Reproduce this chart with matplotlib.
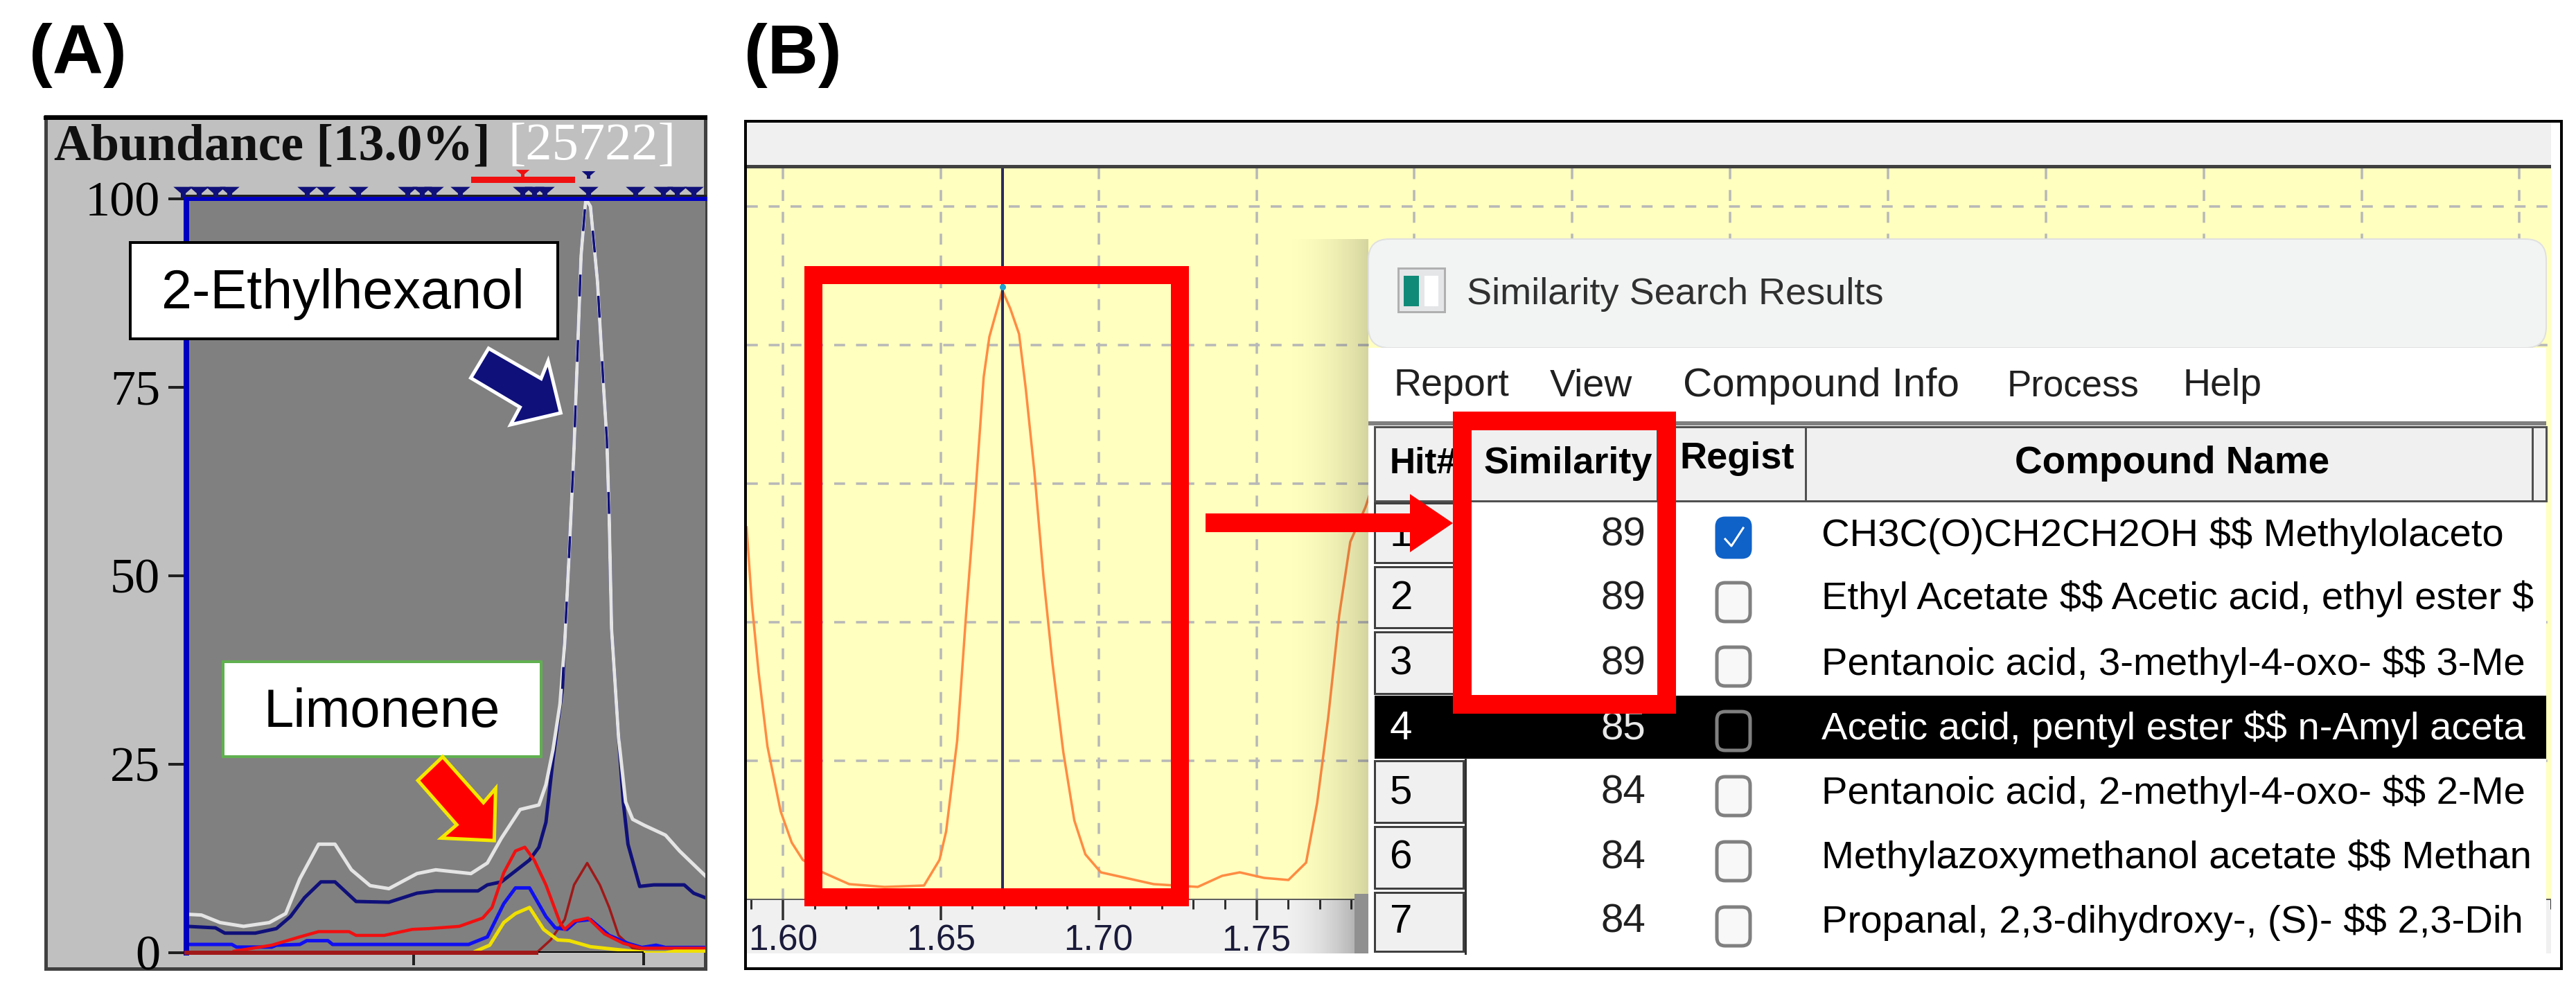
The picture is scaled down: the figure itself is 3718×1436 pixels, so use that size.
import matplotlib
matplotlib.use("Agg")
import matplotlib.pyplot as plt
import numpy as np
from matplotlib.patches import Rectangle, Polygon, FancyBboxPatch

plt.rcParams['font.family'] = ['Liberation Sans', 'DejaVu Sans']

W, H = 3718, 1436

# panel A: scan number vs abundance
a_white_x = [400,430,470,520,575,610,640,680,715,750,790,830,890,930,1005,1040,1070,1110,1150,1165,1180,1195,1205,1215,1225,1240,1250,1260,1275,1288,1295,1300,1305,1320,1335,1350,1375,1420,1450,1505]
a_white_y = [5.1,5.0,4.0,3.5,4.0,5.2,9.8,14.4,14.4,11,8.9,8.5,10.5,11,10.5,11.9,15.2,19,19.6,22.3,26.9,33,41,53.5,67,92.5,100,99,89,75,68,57.7,43,28.5,20,17.7,16.9,15.6,13.5,10.2]
a_navy_x = [400,460,480,545,590,620,650,685,715,760,830,890,930,1020,1040,1070,1130,1150,1165,1180,1200,1215,1225,1240,1250,1260,1275,1288,1295,1300,1305,1320,1330,1340,1365,1395,1460,1480,1505]
a_navy_y = [3.5,3.3,2.6,2.6,3.2,4.8,7.3,9.4,9.4,6.8,6.7,7.9,8.2,8.2,9,9.4,12.3,14,17.3,25.6,35,53.5,67,92.5,100,99,89,75,68,57.7,43,28.5,20,14.4,8.8,9,9,7.9,7.3]
a_red_x = [500,580,640,680,745,760,820,880,915,980,1030,1050,1075,1100,1120,1140,1165,1195,1205,1225,1255,1290,1330,1370,1400,1505]
a_red_y = [0.2,1,2.1,2.8,2.8,2.3,2.3,3.1,3.2,3.5,4.6,6,10.6,13.5,14,12.3,9,4,3.1,4.2,4.6,2.5,1.25,0.6,0.6,0.6]
a_blue_x = [400,495,505,580,590,640,655,700,710,1000,1040,1075,1100,1130,1165,1185,1210,1230,1260,1300,1340,1370,1400,1420,1505]
a_blue_y = [1.1,1.1,0.75,0.75,1,1.1,1.6,1.6,1.1,1.1,2.1,6.5,8.6,8.6,4.8,3.3,3.1,4.2,4.4,2.3,1.25,0.7,1,0.7,0.7]
a_yellow_x = [1015,1045,1075,1100,1130,1160,1190,1215,1260,1320,1370,1380,1420,1440,1505]
a_yellow_y = [0.2,1,4,5.2,6,3.1,1.7,1.6,0.8,0.4,0.1,0,0,0.2,0.2]
a_dark_x = [400,1145,1175,1205,1225,1253,1280,1300,1320,1350,1380,1420,1470,1505]
a_dark_y = [0,0,1.7,4.4,9,11.9,9,6,2.3,0.6,0,0,0.6,0.2]
a_peak_marks = [390,425,460,490,655,695,765,870,900,925,982,1115,1140,1162,1255,1355,1415,1445,1480]
a_yticks = [0,25,50,75,100]
a_xticks = [883,1373]

# panel B: retention time vs intensity
b_x = [1.5885,1.5902,1.5923,1.5951,1.5993,1.6028,1.6063,1.6126,1.6210,1.6322,1.6447,1.6496,1.6517,1.6552,1.6580,1.6608,1.6636,1.6654,1.6695,1.6720,1.6748,1.6769,1.6797,1.6825,1.6853,1.6888,1.6923,1.6958,1.7007,1.7076,1.7174,1.7314,1.7391,1.7447,1.7524,1.7601,1.7657,1.7692,1.7727,1.7762,1.7797,1.7845,1.7943]
b_y = [2.685,2.13,1.64,1.105,0.635,0.41,0.285,0.195,0.11,0.09,0.10,0.285,0.49,1.145,2.05,2.87,3.77,4.06,4.395,4.265,4.08,3.69,3.075,2.335,1.72,1.065,0.57,0.325,0.195,0.16,0.11,0.09,0.17,0.195,0.155,0.14,0.265,0.695,1.31,2.05,2.58,2.83,3.5]
b_labels = ['1.60','1.65','1.70','1.75']

# hit table
hits = ['1','2','3','4','5','6','7']
similarity = [89,89,89,85,84,84,84]
names = ['CH3C(O)CH2CH2OH $$ Methylolaceto',
         'Ethyl Acetate $$ Acetic acid, ethyl ester $',
         'Pentanoic acid, 3-methyl-4-oxo- $$ 3-Me',
         'Acetic acid, pentyl ester $$ n-Amyl aceta',
         'Pentanoic acid, 2-methyl-4-oxo- $$ 2-Me',
         'Methylazoxymethanol acetate $$ Methan',
         'Propanal, 2,3-dihydroxy-, (S)- $$ 2,3-Dih']
row_text_y = [773,864,959,1052,1145,1238,1331]
row_box_y = [776,869,962,1055,1149,1243,1337]
row_edges = [723,815,909,1004,1095,1190,1285,1376]

# squat peak flags of the data system
flag = [(-1,0.55),(1,0.55),(0.25,-0.1),(0.25,-0.55),(-0.25,-0.55),(-0.25,-0.1)]


def pos(l, t, r, b):
    return [l/W, 1-b/H, (r-l)/W, (b-t)/H]


def rect(ax, l, t, r, b, fc='none', ec='none', lw=0, **kw):
    ax.add_patch(Rectangle((l, t), r-l, b-t, facecolor=fc, edgecolor=ec, linewidth=lw, **kw))


def px(n):
    return n*72/100


fig = plt.figure(figsize=(W/100, H/100), dpi=100, facecolor='white')

bg = fig.add_axes([0, 0, 1, 1], zorder=0)
top = fig.add_axes([0, 0, 1, 1], zorder=5)
for a in (bg, top):
    a.set_xlim(0, W)
    a.set_ylim(H, 0)
    a.axis('off')
top.patch.set_alpha(0)

# ---------- panel A ----------
rect(bg, 66, 168, 1018, 1398, fc='#c0c0c0', ec='#404040', lw=px(5))
bg.plot([66, 1018], [170, 170], color='black', lw=px(6))

axa = fig.add_axes(pos(269, 287, 1018, 1375), zorder=1, facecolor='#808080')
axa.set_xlim(398, 1505)
axa.set_ylim(0, 100)
axa.plot(a_navy_x, a_navy_y, color='#10107a', lw=px(5))
axa.plot(a_white_x, a_white_y, color='#e4e4e4', lw=px(5))
axa.plot(a_navy_x[20:30], a_navy_y[20:30], color='#10107a', lw=px(3.5), ls=(0, (9, 18)))
axa.plot(a_dark_x, a_dark_y, color='#a01818', lw=px(3.5))
axa.plot(a_blue_x, a_blue_y, color='#1010f0', lw=px(5))
axa.plot(a_red_x, a_red_y, color='#f01010', lw=px(4.5))
axa.plot(a_yellow_x, a_yellow_y, color='#f0e000', lw=px(5))
axa.plot([1145, 1370], [0, 0], color='black', lw=px(4), zorder=2)
axa.plot([398, 1145], [0, 0], color='#a01818', lw=px(6), clip_on=False, zorder=3)
axa.plot([398, 1505], [100.5, 100.5], color='#202020', lw=px(3), clip_on=False, zorder=3)
axa.scatter(a_peak_marks, [100.9]*len(a_peak_marks), marker=flag, s=420, color='#10107a', linewidths=0, clip_on=False, zorder=4)
axa.scatter([1115], [103.4], marker=flag, s=200, color='#f01010', linewidths=0, clip_on=False)
axa.scatter([1255], [103.2], marker=flag, s=200, color='#10107a', linewidths=0, clip_on=False)
axa.plot([1012, 1220], [102.6, 102.6], color='#f01010', lw=px(9), clip_on=False)
axa.set_yticks(a_yticks)
axa.set_xticks(a_xticks, ['', ''])
axa.tick_params(axis='y', length=px(26), width=px(4), color='#202020', pad=px(12), labelsize=52)
axa.tick_params(axis='x', length=px(18), width=px(4), color='#202020')
for lab in axa.get_yticklabels():
    lab.set_family(['Liberation Serif'])
for s in ('right', 'bottom'):
    axa.spines[s].set_visible(False)
axa.spines['left'].set_color('#0000c0')
axa.spines['left'].set_linewidth(px(8))
axa.spines['top'].set_color('#0000c0')
axa.spines['top'].set_linewidth(px(6))

top.text(78, 212, 'Abundance [13.0%]', fontsize=53, fontfamily=['Liberation Serif'], fontweight='bold', va='center', color='#101010')
top.text(733, 212, '[25722]', fontsize=55, fontfamily=['Liberation Serif'], va='center', color='white')

# call-outs
rect(top, 188, 350, 805, 489, fc='white', ec='black', lw=px(4))
top.text(495, 424, '2-Ethylhexanol', fontsize=57, ha='center', va='center', color='black')
rect(top, 322, 955, 781, 1092, fc='white', ec='#60b050', lw=px(4))
top.text(551, 1028, 'Limonene', fontsize=56, ha='center', va='center', color='black')

navy = np.array([(1043, 1095), (1155, 1190), (1170, 1135), (1197, 1298), (1090, 1335), (1110, 1280), (1005, 1188)], float)
navy[:, 0] /= 1.479
navy[:, 1] /= 2.178
top.add_patch(Polygon(navy, closed=True, facecolor='#10107a', edgecolor='white', linewidth=px(5)))
redar = np.array([(945, 815), (1032, 960), (1058, 915), (1055, 1080), (942, 1072), (975, 1030), (892, 890)], float)
redar[:, 0] /= 1.479
redar[:, 1] = redar[:, 1]/2.19 + 720
top.add_patch(Polygon(redar, closed=True, facecolor='#ff0000', edgecolor='#f5e800', linewidth=px(5)))

top.text(42, 80, '(A)', fontsize=73, fontweight='bold', va='center', color='black')
top.text(1074, 80, '(B)', fontsize=73, fontweight='bold', va='center', color='black')

# ---------- panel B ----------
rect(bg, 1076, 175, 3697, 1376, fc='#f0f0f0')

axb = fig.add_axes(pos(1078, 240, 3682, 1298), zorder=1, facecolor='#ffffc0')
axb.set_xlim(1.5886, 2.1596)
axb.set_ylim(0, 5.29)
major = np.arange(1.60, 2.16, 0.05)
axb.set_xticks(major, b_labels + ['']*(len(major)-len(b_labels)))
axb.set_xticks(np.arange(1.59, 2.16, 0.01), minor=True)
axb.set_yticks([1, 2, 3, 4, 5])
axb.grid(True, which='major', color='#b8b8b8', lw=px(3.5), ls=(0, (4.5, 4.5)))
axb.set_axisbelow(True)
axb.tick_params(axis='x', which='major', length=px(30), width=px(3.5), color='#303030', labelsize=37, pad=px(6), labelcolor='#1a1a3a')
axb.tick_params(axis='x', which='minor', length=px(14), width=px(3), color='#303030')
axb.tick_params(axis='y', length=0, labelleft=False)
axb.plot(b_x, b_y, color='#ff8c42', lw=px(3.5))
axb.axvline(1.6696, color='#2a2a60', lw=px(4))
axb.scatter([1.6696], [4.42], s=30, color='#20a0d0', zorder=3)
for s in axb.spines.values():
    s.set_visible(False)
axb.spines['top'].set_visible(True)
axb.spines['top'].set_color('#404040')
axb.spines['top'].set_linewidth(px(5))
axb.spines['bottom'].set_visible(True)
axb.spines['bottom'].set_color('#606060')
axb.spines['bottom'].set_linewidth(px(2))

# window shadow, weaker on the yellow, stronger on the axis strip
shade = np.zeros((1, 130, 4))
shade[0, :, 3] = np.linspace(0, 1, 130)**2*0.17
top.imshow(shade, extent=(1845, 1975, 1298, 345), aspect='auto', zorder=0.5)
shade2 = np.zeros((1, 130, 4))
shade2[0, :, 3] = np.linspace(0, 1, 130)**2*0.35
top.imshow(shade2, extent=(1845, 1975, 1376, 1298), aspect='auto', zorder=0.5)
top.set_xlim(0, W)
top.set_ylim(H, 0)

# white margin under the plot and frame
rect(top, 1076, 1376, 3697, 1398, fc='white', zorder=1)
rect(top, 3682, 175, 3697, 1398, fc='white', zorder=1)
rect(top, 1076, 175, 3697, 1398, ec='black', lw=px(4), zorder=9)

# window
top.add_patch(FancyBboxPatch((1975, 345), 1700, 157, boxstyle='round,pad=0,rounding_size=30', facecolor='#f2f4f4', edgecolor='#e0e0e0', linewidth=px(2), zorder=1.1))
rect(top, 1975, 502, 3675, 1376, fc='white', zorder=1.2)
rect(top, 1955, 1290, 1984, 1376, fc='#909090', zorder=1.1)
rect(top, 1975, 608, 3675, 614, fc='#808080', zorder=1.3)

# icon
rect(top, 2018, 387, 2085, 450, fc='#e4e6e8', ec='#b0b0b0', lw=px(3), zorder=2)
rect(top, 2026, 398, 2048, 442, fc='#108a78', zorder=3)
rect(top, 2056, 398, 2076, 442, fc='white', zorder=3)

top.text(2117, 425, 'Similarity Search Results', fontsize=39, va='center', color='#303030', zorder=3)
menu = [('Report', 2012, 40), ('View', 2237, 40), ('Compound Info', 2429, 42), ('Process', 2897, 38), ('Help', 3151, 40)]
for label, x0, fs in menu:
    top.text(x0, 557, label, fontsize=fs, va='center', color='#202020', zorder=3)

# header
cols = [1984, 2119, 2392, 2606, 3655, 3675]
for l, r in zip(cols[:-1], cols[1:]):
    rect(top, l, 616, r, 723, fc='#f0f0f0', ec='#505050', lw=px(3), zorder=2)
top.text(2006, 669, 'Hit#', fontsize=37, fontweight='bold', va='center', color='black', zorder=3)
top.text(2142, 669, 'Similarity', fontsize=39, fontweight='bold', va='center', color='black', zorder=3)
top.text(2424, 662, 'Regist', fontsize=39, fontweight='bold', va='center', color='black', zorder=3)
top.text(3135, 669, 'Compound Name', fontsize=39.5, fontweight='bold', va='center', ha='center', color='black', zorder=3)

# rows
for i in range(len(hits)):
    t0, t1 = row_edges[i], row_edges[i+1]
    sel = hits[i] == '4'
    if sel:
        rect(top, 1984, t0, 3675, t1, fc='black', zorder=2)
    else:
        rect(top, 1984, t0+3, 2112, t1-3, fc='#f0f0f0', ec='#404040', lw=px(3), zorder=2)
    col = 'white' if sel else 'black'
    top.text(2006, row_text_y[i], hits[i], fontsize=42, va='center', color=col, zorder=3)
    top.text(2375, row_text_y[i], str(similarity[i]), fontsize=42, va='center', ha='right', color='#e8e8e8' if sel else '#202020', zorder=3)
    top.text(2629, row_text_y[i], names[i], fontsize=40.5, va='center', color=col, zorder=3, parse_math=False)
    if hits[i] == '1':
        fc, ec = '#0f62c8', '#0f62c8'
    elif sel:
        fc, ec = 'black', '#808080'
    else:
        fc, ec = '#f8f8f8', '#808080'
    top.add_patch(FancyBboxPatch((2478, row_box_y[i]-28), 48, 56, boxstyle='round,pad=0,rounding_size=12', facecolor=fc, edgecolor=ec, linewidth=px(5), zorder=3))
top.plot([2490, 2499, 2516], [row_box_y[0]+2, row_box_y[0]+12, row_box_y[0]-14], color='white', lw=px(3), zorder=4)
top.plot([2115, 2115], [1095, 1376], color='#303030', lw=px(3), zorder=3)

# red highlights
rect(top, 1174, 397, 1703, 1295, ec='#ff0000', lw=px(26), zorder=6)
rect(top, 2110, 607, 2405, 1016, ec='#ff0000', lw=px(27), zorder=6)
top.add_patch(Polygon([(1740, 741), (2035, 741), (2035, 713), (2097, 755), (2035, 797), (2035, 768), (1740, 768)], closed=True, facecolor='#ff0000', edgecolor='none', zorder=6))

fig.savefig('out.png', dpi=100)
